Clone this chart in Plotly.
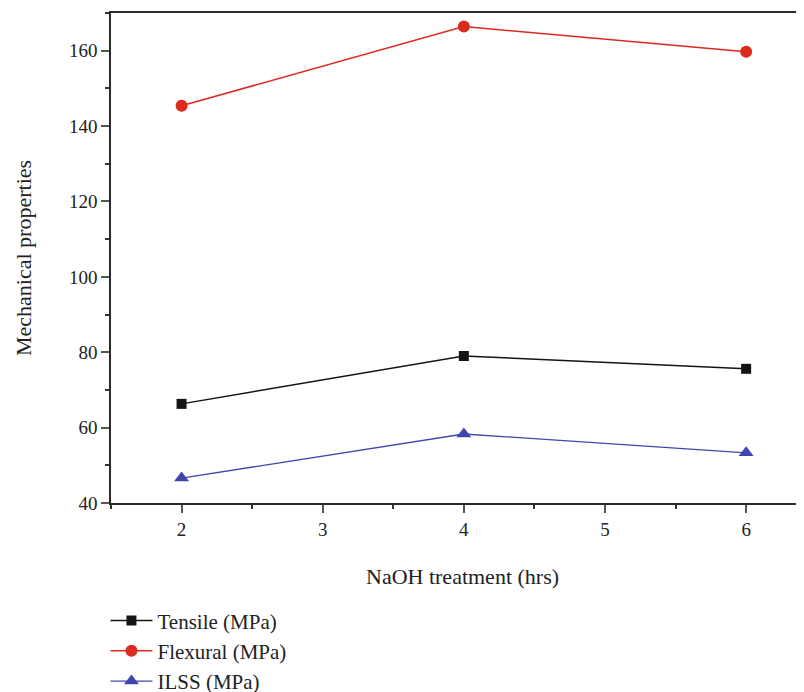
import plotly.graph_objects as go

hours = [2, 4, 6]
tensile = [66.3, 79.0, 75.6]
flexural = [145.4, 166.4, 159.7]
ilss = [46.6, 58.3, 53.3]

x_ticks = [2, 3, 4, 5, 6]
y_ticks = [40, 60, 80, 100, 120, 140, 160]

FONT = "Liberation Serif, DejaVu Serif, serif"
TXT = "#222"

fig = go.Figure()
fig.add_trace(go.Scatter(x=hours, y=tensile, mode="lines+markers", name="Tensile (MPa)",
                         legendgroup="a",
                         line=dict(color="#141414", width=1.5),
                         marker=dict(symbol="square", size=10, color="#141414")))
fig.add_trace(go.Scatter(x=hours, y=flexural, mode="lines+markers", name="Flexural (MPa)",
                         legendgroup="b",
                         line=dict(color="#dc2a1e", width=1.5),
                         marker=dict(symbol="circle", size=12, color="#dc2a1e")))
fig.add_trace(go.Scatter(x=hours, y=ilss, mode="lines+markers", name="ILSS (MPa)",
                         legendgroup="c",
                         line=dict(color="#4146ad", width=1.3),
                         marker=dict(symbol="triangle-up", size=13, color="#4146ad")))

axis_common = dict(showline=True, linecolor="#2a2a2a", linewidth=1.5, ticks="outside",
                   ticklen=8, tickwidth=1.5, tickcolor="#555", showgrid=False, zeroline=False,
                   automargin=False,
                   tickfont=dict(family=FONT, size=19, color=TXT))

fig.update_xaxes(range=[1.5, 6.41], tickvals=x_ticks, mirror=True,
                 minor=dict(ticks="outside", ticklen=4, tickwidth=1.5, tickcolor="#333", dtick=0.5, tick0=0),
                 **axis_common)
fig.update_yaxes(range=[40, 170], tickvals=y_ticks,
                 minor=dict(ticks="outside", ticklen=4, tickwidth=1.5, tickcolor="#333", dtick=10, tick0=0),
                 **axis_common)

fig.add_annotation(text="NaOH treatment (hrs)", xref="paper", yref="paper", x=0.507, y=-0.149,
                   xanchor="center", yanchor="middle", showarrow=False,
                   font=dict(family=FONT, size=22, color=TXT))
fig.add_annotation(text="Mechanical properties", xref="paper", yref="paper", x=-0.127, y=0.5,
                   xanchor="center", yanchor="middle", showarrow=False, textangle=-90,
                   font=dict(family=FONT, size=22, color=TXT))

fig.update_layout(
    width=796, height=684,
    margin=dict(l=103, r=0, t=5, b=189),
    plot_bgcolor="white", paper_bgcolor="white",
    font=dict(family=FONT, size=21, color=TXT),
    legend=dict(x=-0.008, y=0.134, xref="paper", yref="container", xanchor="left", yanchor="top",
                tracegroupgap=0, itemwidth=42,
                font=dict(family=FONT, size=21, color=TXT), bgcolor="rgba(0,0,0,0)"),
    showlegend=True,
)

fig.write_html("out.html")
